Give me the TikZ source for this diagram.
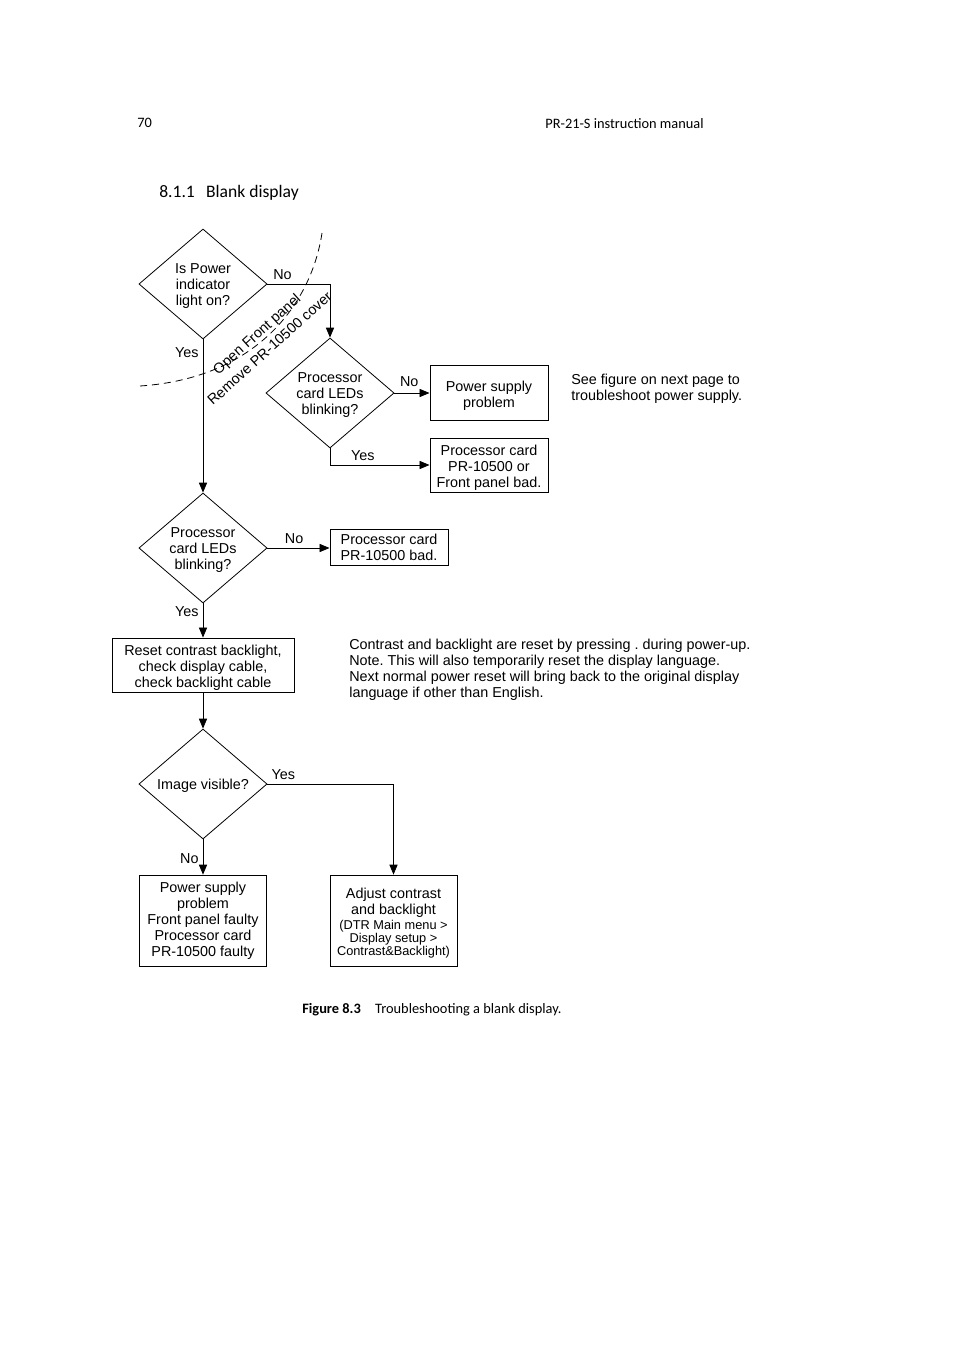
\documentclass[tikz,border=0pt]{standalone}
\usepackage{fontspec}
\setmainfont{Liberation Sans}
\newfontfamily\calibri{Carlito}
\usepackage{tikz}
\usetikzlibrary{shapes.geometric, arrows.meta}
\frenchspacing
\newcommand{\dstrut}{\rule{0pt}{9pt}}
\newcommand{\bstrut}{\rule{0pt}{10.5pt}}
\tikzstyle{decision} = [diamond, aspect=1.17, draw=black, line width=0.5pt, minimum width=28.2mm, minimum height=24.2mm, inner sep=0pt, align=center, font=\fontsize{9}{10}\selectfont]
\tikzstyle{block} = [rectangle, draw=black, line width=0.5pt, inner sep=0pt, align=center, font=\fontsize{9}{10}\selectfont]
\tikzstyle{lbl} = [font=\fontsize{9}{10}\selectfont, inner sep=2.5pt]
\tikzstyle{note} = [anchor=west, align=left, inner sep=0pt, font=\fontsize{9}{10}\selectfont]
\tikzstyle{arrow} = [line width=0.5pt,-{Triangle[length=2.2mm,width=1.8mm]}]

\begin{document}
\begin{tikzpicture}[x=0.22mm, y=-0.22mm]
		\useasboundingbox (0,0) rectangle (954,1350);

		%Page
		\node[anchor=west, inner sep=0pt, font=\calibri\fontsize{9}{10}\selectfont] (pagenum) at (137,123) {70};
		\node[anchor=east, inner sep=0pt, font=\calibri\fontsize{9}{10}\selectfont] (header) at (704,124) {PR-21-S instruction manual};
		\node[anchor=west, inner sep=0pt, font=\calibri\fontsize{11}{13}\selectfont] (section) at (159,193) {8.1.1\hspace{7pt}Blank display};
		\node[anchor=west, inner sep=0pt, font=\calibri\fontsize{9}{10}\selectfont] (caption) at (302,1010) {\textbf{Figure 8.3}\hspace{9pt}Troubleshooting a blank display.};

		%Decisions
		\node[decision] (power) at (203,284) {\dstrut Is Power\\indicator\\light on?};
		\node[decision] (leds1) at (330,393) {\dstrut Processor\\card LEDs\\blinking?};
		\node[decision] (leds2) at (203,548) {\dstrut Processor\\card LEDs\\blinking?};
		\node[decision] (image) at (203,784) {\dstrut Image visible?};

		%Results
		\node[block, minimum width=26mm, minimum height=12.1mm] (psu1) at (489,392.5) {\bstrut Power supply\\problem};
		\node[block, minimum width=26mm, minimum height=11.9mm] (front) at (489,465) {\bstrut Processor card\\PR-10500 or\\Front panel bad.};
		\node[block, minimum width=26mm, minimum height=7.9mm] (proc) at (389,547) {Processor card\\PR-10500 bad.};
		\node[block, minimum width=40mm, minimum height=11.9mm] (reset) at (203,665) {\bstrut Reset contrast backlight,\\check display cable,\\check backlight cable};
		\node[block, minimum width=27.9mm, minimum height=20mm] (psu2) at (203,920.5) {Power supply\\problem\\Front panel faulty\\Processor card\\PR-10500 faulty};
		\node[block, minimum width=27.9mm, minimum height=20mm] (adjust) at (393.5,920.5) {\rule{0pt}{10pt}Adjust contrast\\and backlight\\[-0.6pt]{\fontsize{8}{8.7}\selectfont (DTR Main menu >}\\[-1.8pt]{\fontsize{8}{8.7}\selectfont Display setup >}\\[-1.8pt]{\fontsize{8}{8.7}\selectfont Contrast\&Backlight)}};

		%Notes
		\node[note] (seefig) at (571,389) {See figure on next page to\\troubleshoot power supply.};
		\node[note] (reset note) at (349,670) {Contrast and backlight are reset by pressing . during power-up.\\Note. This will also temporarily reset the display language.\\Next normal power reset will bring back to the original display\\language if other than English.};

		%Front panel
		\draw[line width=0.5pt, dash pattern=on 4.5pt off 3pt] (140,386) .. controls (260,378) and (312,300) .. (322,233);
		\node[rotate=42, align=center, inner sep=0pt, font=\fontsize{9}{12}\selectfont] (cover) at (263,341) {Open Front panel\\Remove PR-10500 cover};

		%connections
		\draw[arrow] (power.east) -| node[lbl, pos=0.12, above] {No} (leds1.north);
		\draw[arrow] (power.south) -- node[lbl, pos=0.085, left] {Yes} (leds2.north);
		\draw[arrow] (leds1.east) -- node[lbl, pos=0.42, above, yshift=1pt] {No} (leds1.east -| psu1.west);
		\draw[arrow] (leds1.south) |- node[lbl, pos=0.665, above] {Yes} (front.west);
		\draw[arrow] (leds2.east) -- node[lbl, pos=0.43, above] {No} (leds2.east -| proc.west);
		\draw[arrow] (leds2.south) -- node[lbl, pos=0.25, left] {Yes} (reset.north);
		\draw[arrow] (reset.south) -- (image.north);
		\draw[arrow] (image.east) -| node[lbl, pos=0.063, above] {Yes} (adjust.north);
		\draw[arrow] (image.south) -- node[lbl, pos=0.55, left] {No} (psu2.north);

	\end{tikzpicture}
\end{document}
